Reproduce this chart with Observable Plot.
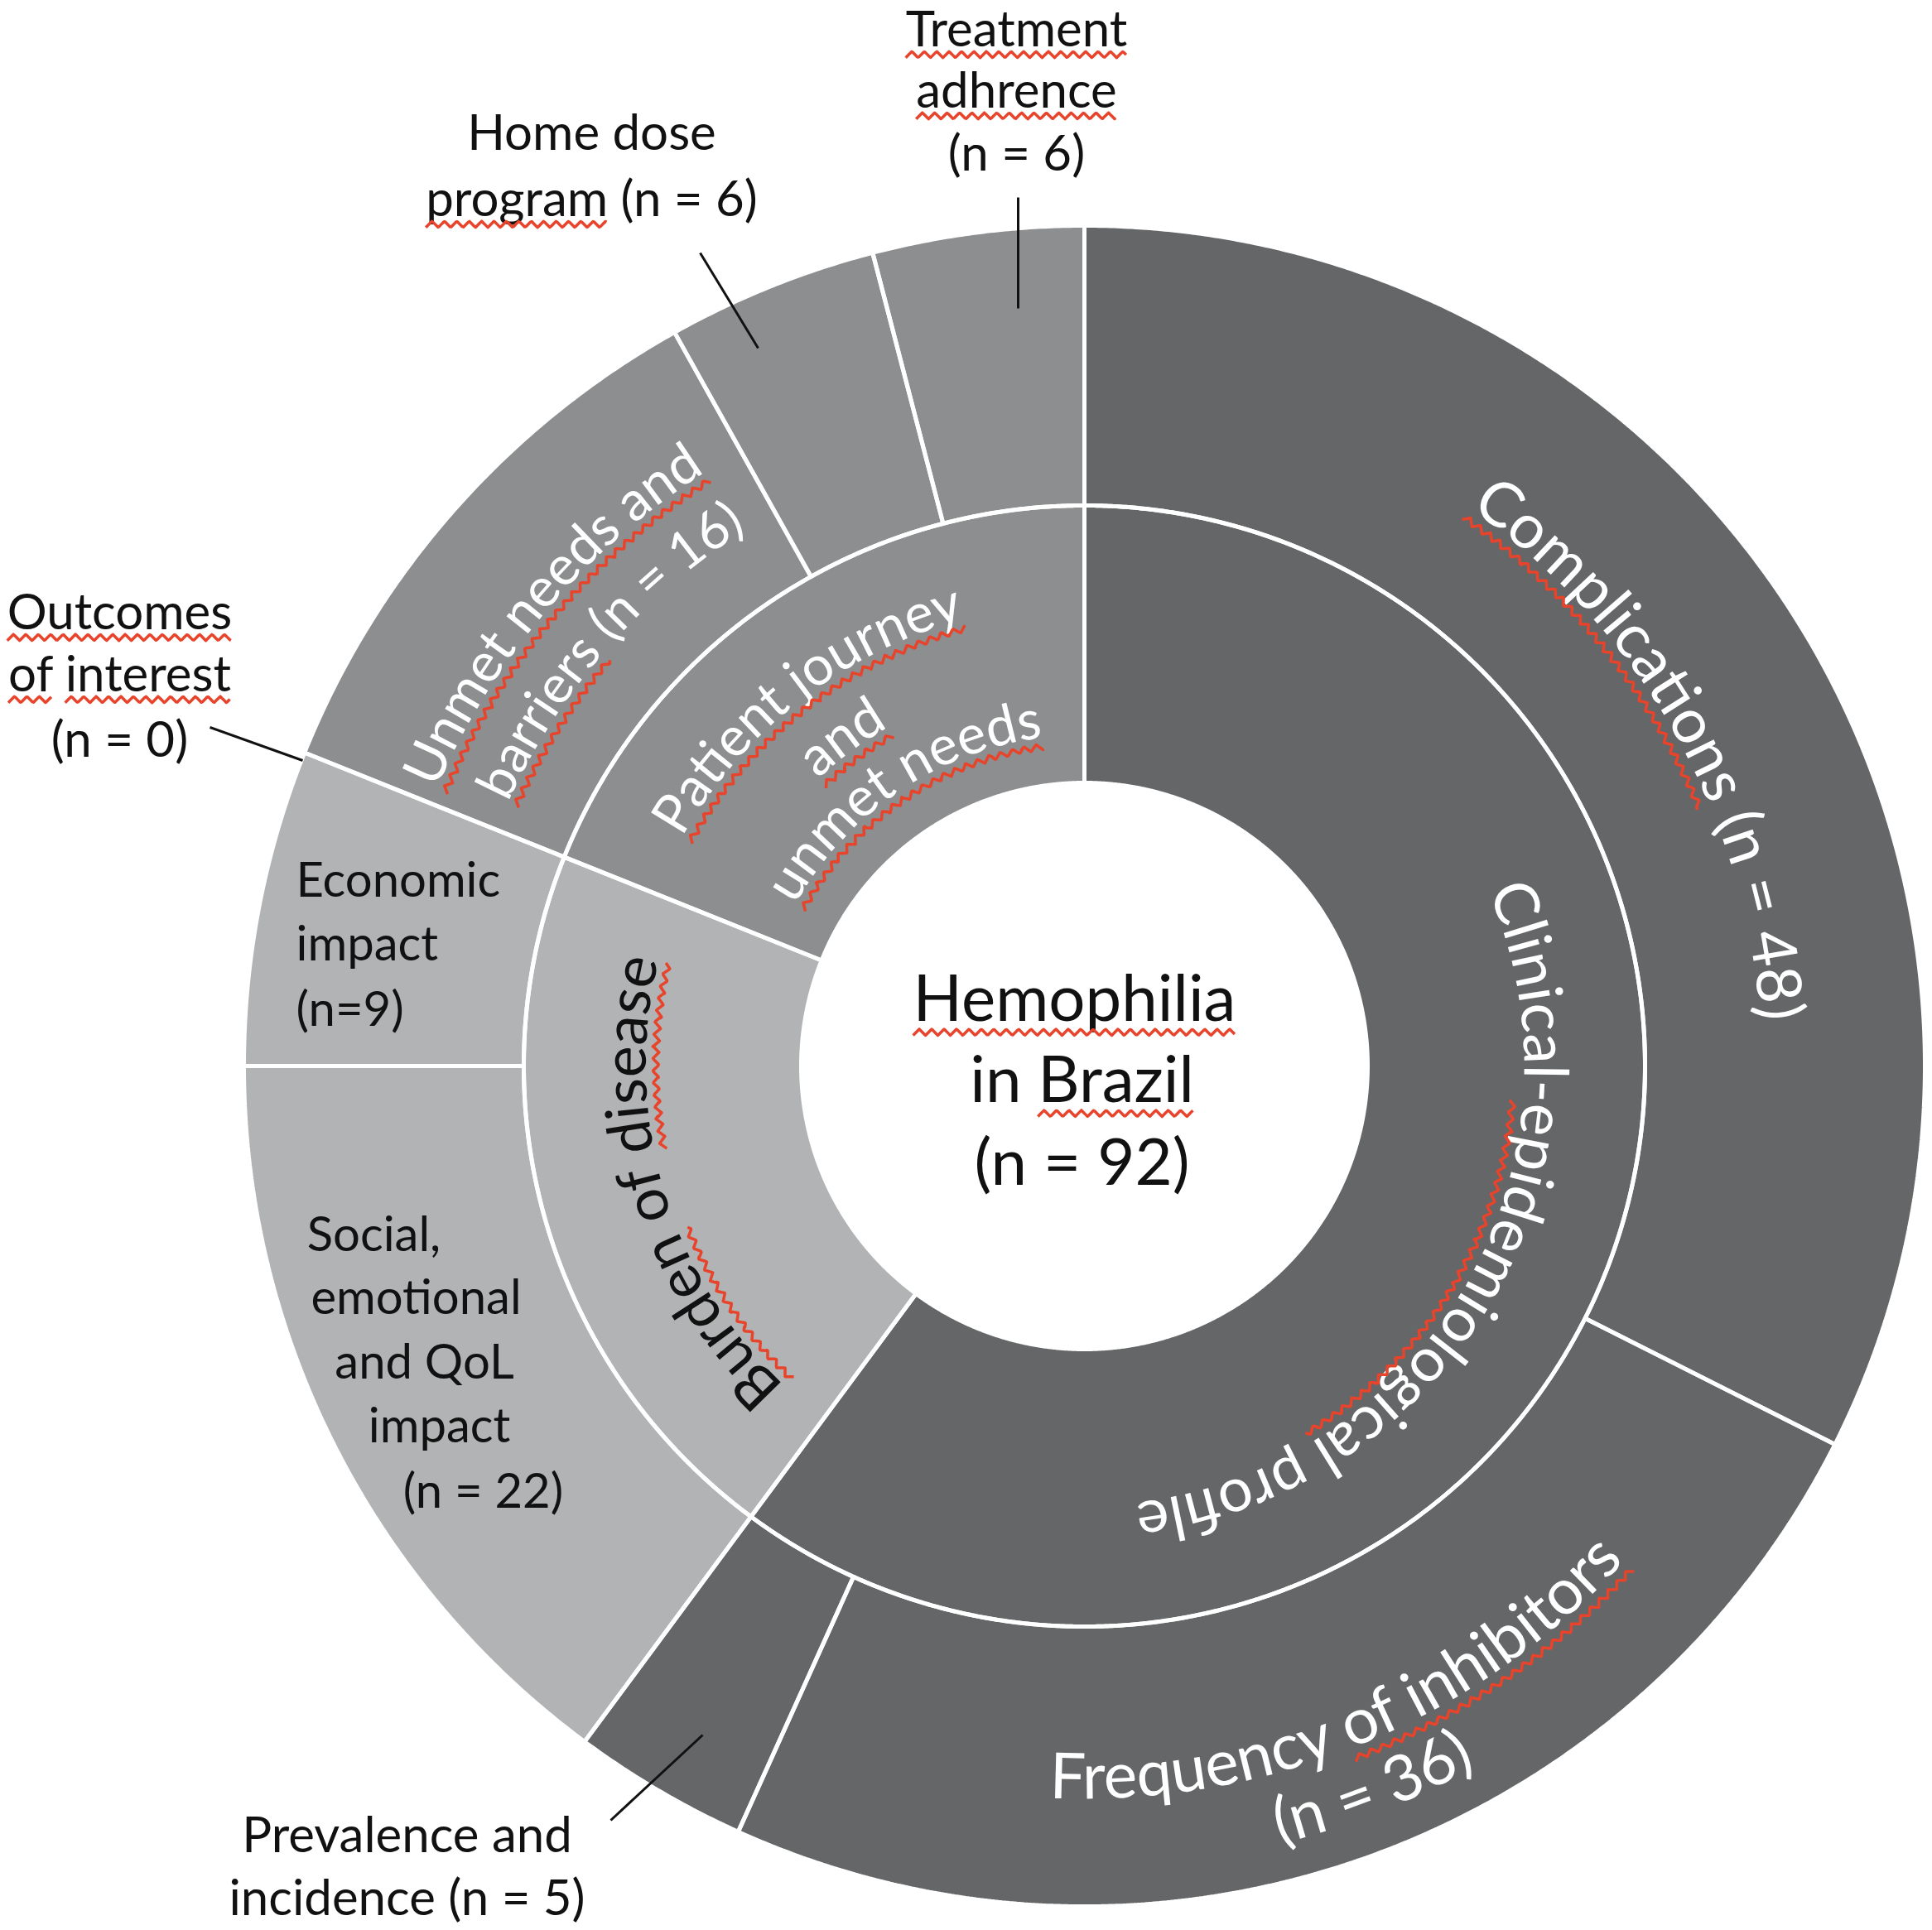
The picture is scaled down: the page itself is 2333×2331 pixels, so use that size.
<!DOCTYPE html>
<html>
<head>
<meta charset="utf-8">
<script src="https://cdn.jsdelivr.net/npm/d3@7"></script>
<script src="https://cdn.jsdelivr.net/npm/@observablehq/plot@0.6"></script>
<style>
  html, body { margin: 0; padding: 0; background: #ffffff; }
  #chart svg { display: block; }
</style>
</head>
<body>
<div id="chart"></div>
<script>
// ---------------- DATA ----------------
const groups = ["Clinical-epidemiological profile", "Burden of disease", "Patient journey and unmet needs"];
const subcategories = [
  "Complications", "Frequency of inhibitors", "Prevalence and incidence",
  "Social, emotional and QoL impact", "Economic impact",
  "Unmet needs and barriers", "Home dose program", "Treatment adhrence", "Outcomes of interest"
];
const subGroup = [0, 0, 0, 1, 1, 2, 2, 2, 2];
const subCounts = [48, 36, 5, 22, 9, 16, 6, 6, 0];
const totalStudies = 92;
const centerLines = ["Hemophilia", "in Brazil", `(n = ${totalStudies})`];

// ---------------- LAYOUT / STYLE ----------------
const W = 2333, H = 2331, CX = 1309, CY = 1287;
const RADII = [342, 677, 1015];
const groupColors = ["#646667", "#b1b3b4", "#8c8e8f"];
const FONT = "Lato, 'Open Sans', sans-serif";

const total = d3.sum(subCounts);
const toDeg = v => v / total * 360;

// outer ring segments
let cum = 0;
const subSegs = subCounts.map((v, i) => {
  const a0 = toDeg(cum); cum += v; const a1 = toDeg(cum);
  return {name: subcategories[i], a0, a1, r0: RADII[1], r1: RADII[2], color: groupColors[subGroup[i]]};
});
// inner ring segments (sum of children)
const groupSegs = groups.map((g, gi) => {
  const kids = subSegs.filter((s, i) => subGroup[i] === gi);
  return {name: g, a0: d3.min(kids, d => d.a0), a1: d3.max(kids, d => d.a1), r0: RADII[0], r1: RADII[1], color: groupColors[gi]};
});
const segments = [...groupSegs, ...subSegs].filter(s => s.a1 - s.a0 > 1e-9);

const rad = a => a * Math.PI / 180;
function arcPolygon(s) {
  const n = Math.max(2, Math.ceil((s.a1 - s.a0) / 0.25));
  const pts = [];
  for (let k = 0; k <= n; k++) {
    const a = rad(s.a0 + (s.a1 - s.a0) * k / n);
    pts.push({x: s.r1 * Math.sin(a), y: -s.r1 * Math.cos(a), id: s.name});
  }
  for (let k = n; k >= 0; k--) {
    const a = rad(s.a0 + (s.a1 - s.a0) * k / n);
    pts.push({x: s.r0 * Math.sin(a), y: -s.r0 * Math.cos(a), id: s.name});
  }
  return pts;
}

// horizontal labels (offsets from chart centre, px)
const textLabels = [
  {lines: ["Treatment", "adhrence", `(n = ${subCounts[7]})`], x: -82, y: [-1251, -1177, -1101], anchor: "middle", size: 60, color: "#111"},
  {lines: ["Home dose", `program (n = ${subCounts[6]})`], x: -595, y: [-1126, -1046], anchor: "middle", size: 60, color: "#111"},
  {lines: ["Outcomes", "of interest", `(n = ${subCounts[8]})`], x: -1165, y: [-547, -472, -393], anchor: "middle", size: 60, color: "#111"},
  {lines: ["Prevalence and", `incidence (n = ${subCounts[2]})`], x: -818, y: [930, 1006], anchor: "middle", size: 60, color: "#111"},
  {lines: ["Economic", "impact", `(n=${subCounts[4]})`], x: -952, y: [-223, -146, -67], anchor: "start", size: 58, color: "#111"},
];
const socialLines = ["Social,", "emotional", "and QoL", "impact", `(n = ${subCounts[3]})`];
const socialX = [-858, -807, -797, -779, -726];
const socialY = [205, 281, 359, 436, 515];
const centerY = [-79, 19, 119];
const centerX = [-12, -3, -3];

// leader lines: offsets from centre
const leaders = [
  {x1: -80, y1: -915, x2: -80, y2: -1049},
  {x1: -394, y1: -867, x2: -464, y2: -982},
  {x1: -944, y1: -369, x2: -1056, y2: -409},
  {x1: -461, y1: 808, x2: -572, y2: 911}
];

// curved labels: centre angle (deg clockwise from top), mid radius, direction
const curved = [
  {text: `${subcategories[0]} (n = ${subCounts[0]})`, angle: 60.5, r: 843, dir: "cw", size: 75, color: "#ffffff"},
  {text: groups[0], angle: 120, r: 556, dir: "cw", size: 74, color: "#ffffff"},
  {text: subcategories[1], angle: 157.6, r: 860, dir: "ccw", size: 77, color: "#ffffff"},
  {text: `(n = ${subCounts[1]})`, angle: 158.3, r: 944, dir: "ccw", size: 77, color: "#ffffff"},
  {text: groups[1], angle: 253.5, r: 553, dir: "cw", size: 72, color: "#111111"},
  {text: "Patient journey", angle: 322.3, r: 580, dir: "cw", size: 66, color: "#ffffff"},
  {text: "and", angle: 323.6, r: 494, dir: "cw", size: 66, color: "#ffffff"},
  {text: "unmet needs", angle: 326, r: 421, dir: "cw", size: 66, color: "#ffffff"},
  {text: "Unmet needs and", angle: 310.3, r: 872, dir: "cw", size: 66, color: "#ffffff"},
  {text: `barriers (n = ${subCounts[5]})`, angle: 311.2, r: 786, dir: "cw", size: 64, color: "#ffffff"}
];

// spell-check style wavy underlines present in the source figure
const underlineSpec = [
  ["Hemophilia", ["Hemophilia"]], ["in Brazil", ["Brazil"]],
  ["Treatment", ["Treatment"]], ["adhrence", ["adhrence"]],
  [`program (n = ${subCounts[6]})`, ["program"]],
  ["Outcomes", ["Outcomes"]], ["of interest", ["of", "interest"]],
  [curved[0].text, ["Complications"]],
  [groups[0], ["epidemiological"]],
  [subcategories[1], ["of inhibitors"]],
  ["Patient journey", ["Patient journey"]], ["and", ["and"]], ["unmet needs", ["unmet needs"]],
  ["Unmet needs and", ["Unmet needs and"]], [curved[9].text, ["barriers"]],
  [groups[1], ["Burden", "disease"]]
];

// ---------------- MARKS ----------------
const marks = [];
for (const s of segments) {
  marks.push(Plot.line(arcPolygon(s), {x: "x", y: "y", fill: s.color, stroke: "none", curve: "linear-closed"}));
}
for (const s of segments) {
  marks.push(Plot.line(arcPolygon(s), {x: "x", y: "y", fill: "none", stroke: "#ffffff", strokeWidth: 5, curve: "linear-closed", strokeLinejoin: "miter"}));
}
marks.push(Plot.link(leaders, {x1: "x1", y1: "y1", x2: "x2", y2: "y2", stroke: "#111", strokeWidth: 3}));

for (const L of textLabels) {
  const rows = L.lines.map((t, i) => ({t, x: L.x, y: L.y[i]}));
  marks.push(Plot.text(rows, {x: "x", y: "y", text: "t", fontSize: L.size, fill: L.color, textAnchor: L.anchor, lineAnchor: "middle", fontFamily: FONT}));
}
marks.push(Plot.text(socialLines.map((t, i) => ({t, x: socialX[i], y: socialY[i]})),
  {x: "x", y: "y", text: "t", fontSize: 58, fill: "#111", textAnchor: "middle", lineAnchor: "middle", fontFamily: FONT}));
marks.push(Plot.text(centerLines.map((t, i) => ({t, x: centerX[i], y: centerY[i]})),
  {x: "x", y: "y", text: "t", fontSize: 78, fill: "#111", textAnchor: "middle", lineAnchor: "middle", fontFamily: FONT}));

const plot = Plot.plot({
  width: W, height: H,
  margin: 0,
  x: {domain: [-CX, W - CX], range: [0, W], axis: null},
  y: {domain: [-CY, H - CY], range: [0, H], axis: null},
  style: {background: "#ffffff", fontFamily: FONT},
  marks
});

// ---------------- CURVED TEXT (uses the plot's own scales) ----------------
const sx = plot.scale("x"), sy = plot.scale("y");
const fx = d3.scaleLinear(sx.domain, sx.range);
const fy = d3.scaleLinear(sy.domain, sy.range);
const k = Math.abs(fx(1) - fx(0));
const svg = d3.select(plot);
const defs = svg.append("defs");
curved.forEach((c, i) => {
  const rb = c.dir === "cw" ? c.r - 0.33 * c.size : c.r + 0.33 * c.size;
  const span = 88;
  const a0 = c.dir === "cw" ? c.angle - span : c.angle + span;
  const a1 = c.dir === "cw" ? c.angle + span : c.angle - span;
  const p = a => [fx(rb * Math.sin(rad(a))), fy(-rb * Math.cos(rad(a)))];
  const [x0, y0] = p(a0), [x1, y1] = p(a1);
  const R = rb * k;
  const id = "arcpath" + i;
  defs.append("path").attr("id", id)
    .attr("d", `M${x0},${y0} A${R},${R} 0 0 ${c.dir === "cw" ? 1 : 0} ${x1},${y1}`);
  svg.append("text")
    .attr("font-family", FONT)
    .attr("font-size", c.size)
    .attr("fill", c.color)
    .append("textPath")
    .attr("href", "#" + id)
    .attr("startOffset", "50%")
    .attr("text-anchor", "middle")
    .text(c.text);
});

document.getElementById("chart").appendChild(plot);

// ---------------- WAVY UNDERLINES (measured from laid-out text) ----------------
const squiggleLayer = svg.append("g").attr("fill", "none").attr("stroke", "#e8432b").attr("stroke-width", 3.5).attr("stroke-linejoin", "round");
const svgNode = plot;
svg.selectAll("text").each(function () {
  const el = this;
  const content = el.textContent;
  const spec = underlineSpec.find(s => s[0] === content);
  if (!spec) return;
  const ctm = el.getCTM();
  const fs = parseFloat(getComputedStyle(el).fontSize) || 60;
  const under = 0.17 * fs, amp = 3.8, period = 15;
  for (const word of spec[1]) {
    const i0 = content.indexOf(word);
    if (i0 < 0) continue;
    const pts = [];
    for (let c = i0; c < i0 + word.length; c++) {
      let s, e, rot;
      try {
        s = el.getStartPositionOfChar(c); e = el.getEndPositionOfChar(c); rot = el.getRotationOfChar(c);
      } catch (err) { continue; }
      const tr = p => { const q = svgNode.createSVGPoint(); q.x = p.x; q.y = p.y; const m = q.matrixTransform(ctm); return [m.x, m.y]; };
      pts.push({p: tr(s), rot}, {p: tr(e), rot});
    }
    if (pts.length < 2) continue;
    const out = [];
    let dist = 0;
    for (let j = 0; j < pts.length - 1; j++) {
      const A = pts[j], B = pts[j + 1];
      const dx = B.p[0] - A.p[0], dy = B.p[1] - A.p[1];
      const len = Math.hypot(dx, dy);
      const n = Math.max(1, Math.ceil(len / 1.5));
      for (let t = 0; t < n; t++) {
        const f = t / n;
        const x = A.p[0] + dx * f, y = A.p[1] + dy * f;
        const r = rad(A.rot + (B.rot - A.rot) * f);
        const nx = -Math.sin(r), ny = Math.cos(r);
        const ph = (dist + len * f) / period;
        const tri = 4 * Math.abs(ph - Math.floor(ph) - 0.5) - 1;
        const off = under + amp * tri;
        out.push([x + nx * off, y + ny * off]);
      }
      dist += len;
    }
    squiggleLayer.append("path").attr("d", d3.line()(out));
  }
});
</script>
</body>
</html>
